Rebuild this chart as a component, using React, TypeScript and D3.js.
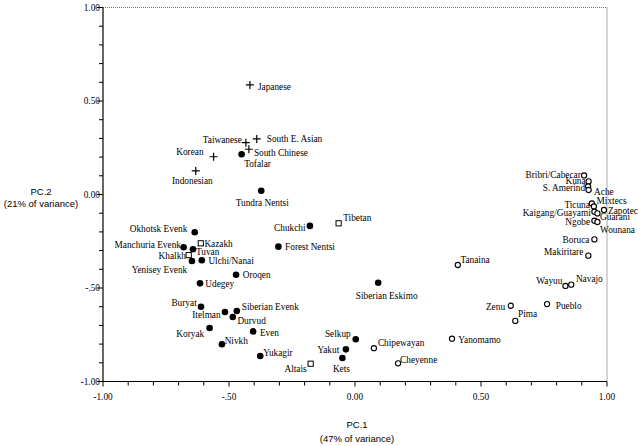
import React from "react";
import * as d3 from "d3";

// ---- data: [population, PC.1, PC.2] ----
const eastAsianPops: [string, number, number][] = [
  ["Japanese", -0.417, 0.586],
  ["Taiwanese", -0.433, 0.277],
  ["South E. Asian", -0.39, 0.297],
  ["South Chinese", -0.421, 0.242],
  ["Korean", -0.561, 0.202],
  ["Indonesian", -0.632, 0.126],
];

const siberianPops: [string, number, number][] = [
  ["Tofalar", -0.45, 0.215],
  ["Tundra Nentsi", -0.372, 0.02],
  ["Chukchi", -0.179, -0.168],
  ["Forest Nentsi", -0.304, -0.279],
  ["Siberian Eskimo", 0.092, -0.472],
  ["Okhotsk Evenk", -0.636, -0.202],
  ["Manchuria Evenk", -0.68, -0.282],
  ["Tuvan", -0.643, -0.293],
  ["Yenisey Evenk", -0.647, -0.356],
  ["Ulchi/Nanai", -0.608, -0.352],
  ["Oroqen", -0.472, -0.429],
  ["Udegey", -0.615, -0.475],
  ["Buryat", -0.611, -0.6],
  ["Itelman", -0.516, -0.628],
  ["Siberian Evenk", -0.469, -0.623],
  ["Durvud", -0.485, -0.655],
  ["Koryak", -0.577, -0.714],
  ["Even", -0.404, -0.732],
  ["Nivkh", -0.528, -0.801],
  ["Yukagir", -0.376, -0.864],
  ["Yakut", -0.036, -0.828],
  ["Kets", -0.05, -0.874],
  ["Selkup", 0.003, -0.774],
];

const centralAsianPops: [string, number, number][] = [
  ["Tibetan", -0.065, -0.154],
  ["Kazakh", -0.612, -0.261],
  ["Khalkh", -0.66, -0.324],
  ["Altais", -0.176, -0.905],
];

const amerindPops: [string, number, number][] = [
  ["Tanaina", 0.408, -0.377],
  ["Chipewayan", 0.075, -0.822],
  ["Cheyenne", 0.171, -0.903],
  ["Yanomamo", 0.385, -0.771],
  ["Zenu", 0.618, -0.595],
  ["Pima", 0.636, -0.676],
  ["Pueblo", 0.762, -0.586],
  ["Wayuu", 0.835, -0.489],
  ["Navajo", 0.858, -0.482],
  ["Makiritare", 0.926, -0.327],
  ["Boruca", 0.95, -0.24],
  ["Bribri/Cabecar", 0.909, 0.102],
  ["Kuna", 0.927, 0.07],
  ["S. Amerind", 0.925, 0.043],
  ["Ache", 0.927, 0.024],
  ["Ticuna", 0.94, -0.048],
  ["Mixtecs", 0.948, -0.064],
  ["Zapotec", 0.988, -0.083],
  ["Kaigang/Guayami", 0.95, -0.092],
  ["Guarani", 0.962, -0.101],
  ["Ngobe", 0.95, -0.14],
  ["Wounana", 0.962, -0.147],
];

const axisTickLabels: [number, string][] = [
  [-1, "-1.00"],
  [-0.5, "-.50"],
  [0, "0.00"],
  [0.5, "0.50"],
  [1, "1.00"],
];

const xTitle = ["PC.1", "(47% of variance)"];
const yTitle = ["PC.2", "(21% of variance)"];

// ---- label layout (pixel offsets from the marker: dx, dy baseline, anchor) ----
const labelLayout: Record<string, [number, number, string]> = {
  Japanese: [8, 5, "start"],
  Taiwanese: [-4, 0, "end"],
  "South E. Asian": [10, 3.5, "start"],
  "South Chinese": [5, 7, "start"],
  Korean: [-10, -1.7, "end"],
  Indonesian: [17, 13, "end"],
  Tofalar: [2.6, 13, "start"],
  "Tundra Nentsi": [1, 15, "middle"],
  Chukchi: [-4.3, 5, "end"],
  "Forest Nentsi": [6.7, 3.5, "start"],
  "Siberian Eskimo": [8.5, 16, "middle"],
  "Okhotsk Evenk": [-7.4, 0, "end"],
  "Manchuria Evenk": [-2.7, 1.2, "end"],
  Tuvan: [3, 6, "start"],
  "Yenisey Evenk": [-4.7, 12, "end"],
  "Ulchi/Nanai": [6.6, 3.7, "start"],
  Oroqen: [6.7, 3.5, "start"],
  Udegey: [5.3, 4, "start"],
  Buryat: [-4.3, -0.7, "end"],
  Itelman: [-4.3, 6.5, "end"],
  "Siberian Evenk": [5, -1, "start"],
  Durvud: [4.6, 7, "start"],
  Koryak: [-5.4, 9, "end"],
  Even: [6.7, 4.7, "start"],
  Nivkh: [2.7, -0.3, "start"],
  Yukagir: [3, -0.5, "start"],
  Yakut: [-6.7, 3.7, "end"],
  Kets: [-1, 14, "middle"],
  Selkup: [-5, -1.8, "end"],
  Tibetan: [4.6, -2.6, "start"],
  Kazakh: [3.6, 3.7, "start"],
  Khalkh: [-2.7, 4, "end"],
  Altais: [-4, 8.3, "end"],
  Tanaina: [2.6, -1.5, "start"],
  Chipewayan: [4, -1.8, "start"],
  Cheyenne: [2, -0.5, "start"],
  Yanomamo: [6.3, 4.8, "start"],
  Zenu: [-5.7, 3.8, "end"],
  Pima: [2.7, -3.5, "start"],
  Pueblo: [8.7, 4.5, "start"],
  Wayuu: [-3, -2, "end"],
  Navajo: [4.7, -2.7, "start"],
  Makiritare: [-5, -0.2, "end"],
  Boruca: [-5, 3.5, "end"],
  "Bribri/Cabecar": [-3.3, 2.5, "end"],
  Kuna: [-3, 3, "end"],
  "S. Amerind": [-3, 4.3, "end"],
  Ache: [5.5, 4.8, "start"],
  Ticuna: [-2, 4.3, "end"],
  Mixtecs: [2.7, -2.7, "start"],
  Zapotec: [4, 3.5, "start"],
  "Kaigang/Guayami": [-3.6, 4.5, "end"],
  Guarani: [2.7, 7, "start"],
  Ngobe: [-4.3, 4.5, "end"],
  Wounana: [2.7, 10.8, "start"],
};

const W = 643;
const H = 446;
const left = 103;
const right = 607;
const top = 7.5;
const bottom = 381.5;

const serif = "Liberation Serif, serif";
const sans = "Liberation Sans, sans-serif";
const FS = 9.3;

export default function App() {
  const x = d3.scaleLinear().domain([-1, 1]).range([left, right]);
  const y = d3.scaleLinear().domain([-1, 1]).range([bottom, top]);
  const minorTicks = d3.range(-10, 11).map((i) => i / 10);
  const isMajor = (v: number) => Math.abs(v * 2 - Math.round(v * 2)) < 1e-6;

  const label = (name: string, px: number, py: number) => {
    const l = labelLayout[name] || [5, 3.5, "start"];
    return (
      <text
        key={"t" + name}
        x={px + l[0]}
        y={py + l[1]}
        textAnchor={l[2] as any}
        style={{ fontFamily: serif, fontSize: FS }}
        fill="#000"
      >
        {name}
      </text>
    );
  };

  return (
    <svg
      width={W}
      height={H}
      style={{ position: "absolute", left: 0, top: 0, background: "#fff" }}
    >
      <rect x={0} y={0} width={W} height={H} fill="#fff" />
      {/* dotted frame top/right */}
      <line x1={left} x2={right} y1={top} y2={top} stroke="#777" strokeWidth={1} strokeDasharray="1,1" />
      <line x1={right} x2={right} y1={top} y2={bottom} stroke="#555" strokeWidth={1} strokeDasharray="1,1" />
      {/* axes */}
      <line x1={left} x2={left} y1={top} y2={bottom + 0.5} stroke="#000" strokeWidth={1.2} />
      <line x1={left - 0.5} x2={right} y1={bottom} y2={bottom} stroke="#000" strokeWidth={1.2} />
      {minorTicks.map((v) => (
        <g key={"xt" + v}>
          <line x1={x(v)} x2={x(v)} y1={bottom} y2={bottom + (isMajor(v) ? 5 : 4)} stroke="#000" strokeWidth={1} />
          <line x1={left} x2={left - (isMajor(v) ? 6 : 4)} y1={y(v)} y2={y(v)} stroke="#000" strokeWidth={1} />
        </g>
      ))}
      {axisTickLabels.map(([v, t]) => (
        <g key={"tl" + v}>
          <text x={x(v)} y={400} textAnchor="middle" style={{ fontFamily: serif, fontSize: FS }} fill="#000">
            {t}
          </text>
          <text x={100} y={y(v) + 3.3} textAnchor="end" style={{ fontFamily: serif, fontSize: FS }} fill="#000">
            {t}
          </text>
        </g>
      ))}
      {/* axis titles */}
      <text x={357} y={427.5} textAnchor="middle" style={{ fontFamily: sans, fontSize: 9.5 }}>{xTitle[0]}</text>
      <text x={357} y={441.5} textAnchor="middle" style={{ fontFamily: sans, fontSize: 9.5 }}>{xTitle[1]}</text>
      <text x={41} y={195} textAnchor="middle" style={{ fontFamily: sans, fontSize: 9.5 }}>{yTitle[0]}</text>
      <text x={41} y={207} textAnchor="middle" style={{ fontFamily: sans, fontSize: 9.5 }}>{yTitle[1]}</text>

      {/* crosses */}
      {eastAsianPops.map(([n, a, b]) => {
        const px = x(a), py = y(b);
        return (
          <g key={n}>
            <path d={`M${px - 4},${py}H${px + 4}M${px},${py - 4}V${py + 4}`} stroke="#000" strokeWidth={1.2} fill="none" />
            {label(n, px, py)}
          </g>
        );
      })}
      {/* filled circles */}
      {siberianPops.map(([n, a, b]) => {
        const px = x(a), py = y(b);
        return (
          <g key={n}>
            <circle cx={px} cy={py} r={3.3} fill="#000" />
            {label(n, px, py)}
          </g>
        );
      })}
      {/* open squares */}
      {centralAsianPops.map(([n, a, b]) => {
        const px = x(a), py = y(b);
        return (
          <g key={n}>
            <rect x={px - 2.6} y={py - 2.6} width={5.2} height={5.2} fill="#fff" stroke="#000" strokeWidth={1} />
            {label(n, px, py)}
          </g>
        );
      })}
      {/* open circles */}
      {amerindPops.map(([n, a, b]) => {
        const px = x(a), py = y(b);
        return (
          <g key={n}>
            <circle cx={px} cy={py} r={2.6} fill="#fff" stroke="#000" strokeWidth={1.1} />
            {label(n, px, py)}
          </g>
        );
      })}
    </svg>
  );
}
